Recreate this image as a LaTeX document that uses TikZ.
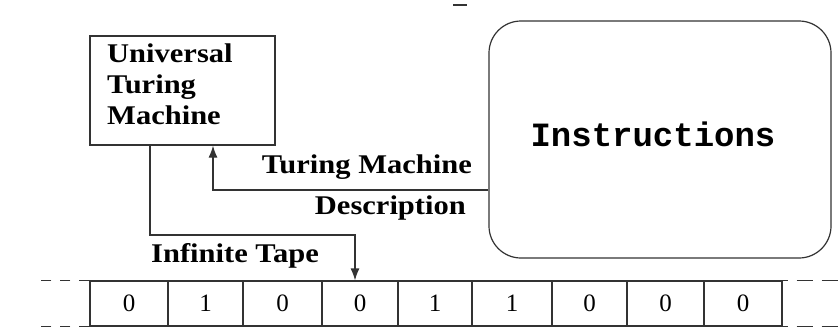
\documentclass[tikz,border=0pt]{standalone}
\usepackage{fontspec}
\setmainfont{Liberation Serif}
\newfontfamily\lblfont[FakeStretch=1.13]{Liberation Serif}
\newfontfamily\monofont{Liberation Mono}
\usetikzlibrary{arrows.meta,calc}
\begin{document}
\begin{tikzpicture}[x=1pt,y=-1pt,
  line/.style={draw=black!80,line width=1.2pt},
  lbl/.style={font=\fontsize{27}{31}\lblfont\bfseries,inner sep=0pt},
  cell/.style={line,minimum height=45pt,inner sep=0pt,font=\fontsize{25}{27}\selectfont},
  tip/.style={-{Latex[length=12pt,width=9pt]}}
]
\useasboundingbox (0,0) rectangle (840,333);
% top stray mark
\draw[line,line width=2pt] (453,5) -- (467,5);
% boxes
\node[line,rectangle,minimum width=185pt,minimum height=109pt,inner sep=0pt] (utm) at (182.5,90.5) {};
\node[lbl,anchor=north west,align=left] (utmtxt) at (107,44) {Universal\\Turing\\Machine};
\node[line,rectangle,rounded corners=32pt,minimum width=342pt,minimum height=237pt,inner sep=0pt] (instr) at (660,139.5) {};
\node[font=\fontsize{34}{36}\monofont\bfseries,inner sep=0pt] (instrtxt) at (653,134) {Instructions};
% tape cells
\foreach \i/\a/\b/\d in {1/90/168/0,2/168/243/1,3/243/322/0,4/322/398/0,5/398/472/1,6/472/552/1,7/552/627/0,8/627/704/0,9/704/782/0}{
  \node[cell,minimum width={\b-\a}] (c\i) at ({(\a+\b)/2},303.5) {\d};
}
% dashed continuations
\draw[line,dash pattern=on 10pt off 9pt] (c1.north west) -- ++(-48,0);
\draw[line,dash pattern=on 10pt off 9pt] (c1.south west) -- ++(-48,0);
\draw[line,dash pattern=on 16pt off 9pt,dash phase=-14pt] (c9.north east) -- ++(58,0);
\draw[line,dash pattern=on 16pt off 9pt,dash phase=-14pt] (c9.south east) -- ++(58,0);
% connectors
\coordinate (hx) at (150,0);
\coordinate (hy) at (0,235);
\coordinate (px) at (355,0);
\coordinate (dy) at (0,190);
\coordinate (ux) at (213,0);
\draw[line,tip] (utm.south -| hx) |- (px |- hy) -- (px |- c4.north);
\draw[line,tip] (instr.west |- dy) -| (utm.south -| ux);
% labels
\node[lbl,anchor=east] (tm) at (472,167) {Turing Machine};
\node[lbl,anchor=east] (desc) at (466,208) {Description};
\node[lbl] (tape) at (235,256) {Infinite Tape};
\end{tikzpicture}
\end{document}
